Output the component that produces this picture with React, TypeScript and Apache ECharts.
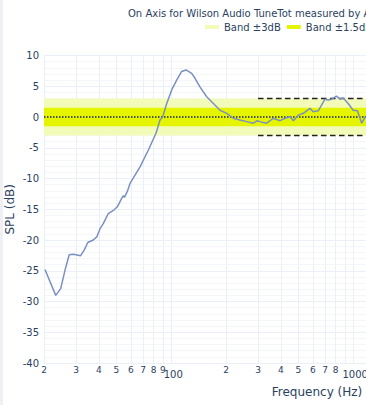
import React, { useEffect, useRef } from 'react';
import * as echarts from 'echarts';

// Frequency response (Hz, dB)
const FREQ = [
  20.25, 23.2, 24.7, 26.1, 27.5, 29.0, 31.8, 33.3, 34.8, 37.3, 39.0, 40.6, 42.4, 45.1, 48.1,
  50.6, 53.8, 54.6, 55.3, 57.4, 59.4, 67.4, 74.8, 82.5, 86.8, 89.8, 94.5, 100.6, 107.2, 114.2,
  120.6, 129.6, 135.1, 143.9, 156.7, 170.5, 185.5, 201.9, 219.4, 238.8, 259.7, 282.3, 297,
  307.5, 320, 334.7, 363.9, 396.6, 422, 450, 469, 499, 532, 579, 603, 643, 670, 700, 729, 761,
  810, 845, 882, 938, 1000, 1055, 1114, 1168,
];
const SPL = [
  -24.8, -29.0, -27.9, -24.9, -22.4, -22.3, -22.55, -21.6, -20.4, -20.0, -19.5, -18.2, -17.3, -15.7, -15.2,
  -14.6, -13.06, -12.8, -13.06, -12.1, -10.8, -8.1, -5.4, -2.65, -0.5, 0.05, 2.2, 4.4, 6.0, 7.4,
  7.65, 7.1, 6.3, 4.9, 3.3, 2.2, 1.1, 0.6, -0.2, -0.5, -0.75, -1.0, -0.6,
  -0.75, -0.9, -1.0, -0.2, -0.6, -0.2, 0.05, -0.6, 0.3, 0.6, 1.4, 0.86, 1.0, 1.95, 2.9, 2.75, 2.9,
  3.4, 2.9, 3.1, 2.2, 1.1, 1.0, -1.0, 0.05,
];

const X_MIN = 20;
const X_MAX = 1176;
const Y_MIN = -40;
const Y_MAX = 10;
const Y_STEP = 5;
const X_TICKS = [20, 30, 40, 50, 60, 70, 80, 90, 100, 200, 300, 400, 500, 600, 700, 800, 900, 1000];
const BAND_WIDE = 3;
const BAND_NARROW = 1.5;
const LIMIT_START = 300;
const LIMIT_DB = 3;

const TITLE = 'On Axis for Wilson Audio TuneTot measured by ASR';
const BAND_WIDE_NAME = 'Band ±3dB';
const BAND_NARROW_NAME = 'Band ±1.5dB';

const FONT = "'DejaVu Sans', Verdana, sans-serif";
const TXT = '#2a3f5f';

// frequency axis is logarithmic: positions are log10(Hz) on a value axis
const lg = (f: number) => Math.log10(f);

export default function App() {
  const ref = useRef<HTMLDivElement>(null);
  useEffect(() => {
    const chart = echarts.init(ref.current!, null, { renderer: 'svg' });
    const curve = FREQ.map((f, i) => [lg(f), SPL[i]]);
    const tickPos = X_TICKS.map(lg);
    chart.setOption({
      animation: false,
      backgroundColor: '#ffffff',
      textStyle: { fontFamily: FONT },
      title: {
        text: TITLE,
        left: 128,
        top: 8,
        padding: 0,
        textStyle: { fontSize: 10, fontWeight: 'normal', color: TXT, fontFamily: FONT },
      },
      legend: {
        data: [BAND_WIDE_NAME, BAND_NARROW_NAME],
        left: 205,
        top: 22,
        width: 600,
        padding: 0,
        itemGap: 6,
        itemWidth: 14,
        itemHeight: 4,
        icon: 'rect',
        textStyle: { fontSize: 10, color: TXT, fontFamily: FONT },
      },
      graphic: [
        { type: 'rect', left: 0, top: 0, shape: { width: 3, height: 405 }, style: { fill: '#eef0f4' }, silent: true },
        {
          type: 'text', x: 317, y: 392,
          style: { text: 'Frequency (Hz)', fontSize: 12, fill: TXT, fontFamily: FONT, align: 'center', verticalAlign: 'middle' },
        },
      ],
      grid: { left: 44, right: 0, top: 55.5, bottom: 42, containLabel: false, outerBoundsMode: 'none' },
      xAxis: {
        type: 'value',
        min: lg(X_MIN),
        max: lg(X_MAX),
        axisLine: { show: false },
        axisTick: { show: false, customValues: tickPos },
        splitLine: { show: true, lineStyle: { color: '#ebf0f8', width: 1 } },
        axisLabel: {
          customValues: tickPos,
          margin: 2,
          color: TXT,
          fontFamily: FONT,
          showMinLabel: true,
          showMaxLabel: true,
          hideOverlap: false,
          formatter: (v: number) => {
            const r = Math.round(Math.pow(10, v));
            const l = Math.log10(r);
            if (Math.abs(l - Math.round(l)) < 1e-6) return '{b|' + r + '}';
            return '{s|' + String(r)[0] + '}';
          },
          rich: {
            s: { fontSize: 9, color: TXT, fontFamily: FONT, lineHeight: 10 },
            b: { fontSize: 10, color: TXT, fontFamily: FONT, lineHeight: 12, padding: [6, 0, 0, 4] },
          },
        },
      },
      yAxis: {
        type: 'value',
        min: Y_MIN,
        max: Y_MAX,
        interval: Y_STEP,
        name: 'SPL (dB)',
        nameLocation: 'middle',
        nameGap: 28,
        nameMoveOverlap: false,
        nameTextStyle: { fontSize: 12, color: TXT, fontFamily: FONT },
        axisLine: { show: false },
        axisTick: { show: false },
        axisLabel: { fontSize: 10, color: TXT, margin: 5, fontFamily: FONT },
        splitLine: { show: true, lineStyle: { color: '#ebf0f8', width: 1 } },
        minorTick: { show: false, splitNumber: 5 },
        minorSplitLine: { show: true, lineStyle: { color: '#f4f6fa', width: 1 } },
      },
      series: [
        {
          name: BAND_WIDE_NAME,
          type: 'line',
          data: [],
          z: 1,
          itemStyle: { color: '#f3fbb8' },
          lineStyle: { color: '#f3fbb8' },
          markArea: {
            silent: true,
            itemStyle: { color: '#f3fbb8', opacity: 1 },
            data: [[{ xAxis: lg(X_MIN), yAxis: -BAND_WIDE }, { xAxis: lg(X_MAX), yAxis: BAND_WIDE }]],
          },
        },
        {
          name: BAND_NARROW_NAME,
          type: 'line',
          data: [],
          z: 2,
          itemStyle: { color: '#e5f500' },
          lineStyle: { color: '#e5f500' },
          markArea: {
            silent: true,
            itemStyle: { color: '#e5f500', opacity: 1 },
            data: [[{ xAxis: lg(X_MIN), yAxis: -BAND_NARROW }, { xAxis: lg(X_MAX), yAxis: BAND_NARROW }]],
          },
        },
        {
          name: 'zero',
          type: 'line',
          z: 3,
          symbol: 'none',
          data: [[lg(X_MIN), 0], [lg(X_MAX), 0]],
          lineStyle: { color: '#222', width: 1.5, type: [1.5, 1.5] },
        },
        {
          name: 'limit+',
          type: 'line',
          z: 3,
          symbol: 'none',
          data: [[lg(LIMIT_START), LIMIT_DB], [lg(X_MAX), LIMIT_DB]],
          lineStyle: { color: '#222', width: 1.5, type: [5.5, 3.5] },
        },
        {
          name: 'limit-',
          type: 'line',
          z: 3,
          symbol: 'none',
          data: [[lg(LIMIT_START), -LIMIT_DB], [lg(X_MAX), -LIMIT_DB]],
          lineStyle: { color: '#222', width: 1.5, type: [5.5, 3.5] },
        },
        {
          name: 'On Axis',
          type: 'line',
          z: 4,
          symbol: 'none',
          data: curve,
          lineStyle: { color: '#7b90c0', width: 1.5 },
        },
      ],
    });
    return () => chart.dispose();
  }, []);
  return (
    <div
      ref={ref}
      style={{ position: 'absolute', left: 0, top: 0, width: 366, height: 405, background: '#fff' }}
    />
  );
}
